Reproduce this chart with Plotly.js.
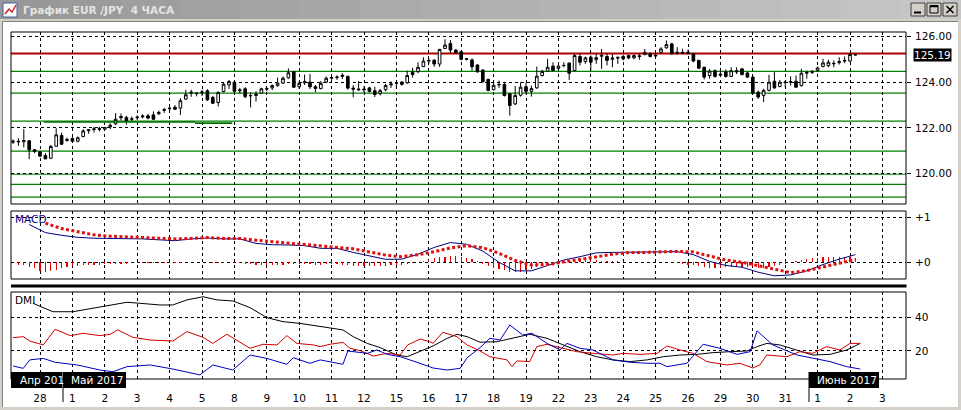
<!DOCTYPE html>
<html><head><meta charset="utf-8">
<script src="https://cdn.plot.ly/plotly-3.0.1.min.js"></script>
<style>html,body{margin:0;padding:0;background:#d4d0c8;overflow:hidden}#chart{width:961px;height:410px}</style>
</head><body><div id="chart"></div>
<script>
// ---------------- DATA ----------------
const dayTicks = [5,11,17,23,29,35,41,47,53,59,65,71,77,83,89,95,101,107,113,119,125,131,137,143,149,155,161];
const dayLabels = ['28','1','2','3','4','5','8','9','10','11','12','15','16','17','18','19','22','23','24','25','26','29','30','31','1','2','3'];

const open = [121.38,121.42,121.40,121.44,121.05,120.96,120.80,120.68,121.20,121.67,
121.50,121.54,121.42,121.62,121.88,121.93,121.97,121.95,122.05,122.18,
122.50,122.46,122.38,122.45,122.48,122.53,122.57,122.62,122.77,122.84,
122.90,122.87,123.26,123.52,123.50,123.55,123.62,123.33,123.11,123.59,
123.88,124.00,123.62,123.71,123.40,123.42,123.52,123.72,123.75,123.85,
123.96,124.19,124.46,123.80,123.97,124.00,123.80,123.72,124.00,124.17,
124.20,124.25,124.25,123.74,123.70,123.70,123.75,123.62,123.50,123.67,
123.88,123.95,124.00,123.97,124.43,124.46,124.68,124.92,124.96,124.79,
125.47,125.69,125.40,125.33,125.00,124.97,124.75,124.53,124.12,123.67,
123.88,123.90,123.49,123.05,123.43,123.80,123.60,123.75,124.29,124.48,
124.70,124.60,124.72,124.83,124.51,125.12,124.90,125.09,124.98,125.13,
125.12,125.00,125.05,125.12,125.16,125.06,125.15,125.20,125.23,125.18,
125.30,125.50,125.67,125.26,125.30,125.30,125.24,124.95,124.65,124.29,
124.50,124.30,124.45,124.25,124.50,124.58,124.40,124.22,123.56,123.42,
123.64,124.04,123.81,123.98,124.00,124.04,123.85,124.39,124.42,124.50,
124.68,124.72,124.80,124.85,124.92,124.92,125.20];
const high = [121.50,121.55,121.95,121.46,121.08,121.00,120.90,121.26,121.99,121.80,
121.58,121.60,121.63,121.95,121.95,122.05,122.05,122.05,122.20,122.65,
122.63,122.53,122.50,122.55,122.60,122.62,122.72,122.76,122.88,122.95,
123.00,123.30,123.67,123.67,123.57,123.67,123.70,123.40,123.60,123.99,
124.10,124.05,123.75,123.78,123.56,123.60,123.76,123.78,123.90,124.20,
124.25,124.60,124.47,124.05,124.33,124.36,123.88,124.05,124.25,124.25,
124.30,124.39,124.29,123.87,124.05,123.82,123.80,123.80,123.70,123.93,
124.03,124.05,124.05,124.50,124.62,124.87,125.09,125.05,125.00,125.45,
125.87,125.84,125.45,125.35,125.05,125.04,124.78,124.56,124.15,124.07,
124.07,123.96,123.52,123.83,124.00,123.97,123.85,124.68,124.54,125.02,
124.87,124.80,124.87,124.87,125.24,125.24,125.12,125.16,125.24,125.45,
125.27,125.24,125.12,125.20,125.20,125.20,125.24,125.45,125.30,125.25,
125.53,125.82,125.72,125.53,125.46,125.42,125.27,124.98,124.68,124.58,
124.55,124.55,124.55,124.65,124.65,124.62,124.45,124.25,123.64,123.71,
124.32,124.44,124.10,124.07,124.25,124.29,124.58,124.50,124.53,124.68,
125.02,124.98,124.95,125.09,125.12,125.27,125.22];
const low = [121.30,121.22,121.15,120.64,120.90,120.73,120.64,120.64,121.18,121.26,
121.40,121.40,121.37,121.60,121.75,121.80,121.85,121.90,121.95,122.13,
122.33,122.14,122.30,122.35,122.42,122.38,122.36,122.57,122.66,122.76,
122.79,122.57,123.23,123.36,123.38,123.40,123.18,123.04,122.94,123.55,
123.70,123.55,123.50,123.30,122.90,123.15,123.50,123.60,123.65,123.80,
123.93,124.15,123.75,123.70,123.88,123.70,123.56,123.68,123.96,124.10,
124.10,124.13,123.67,123.34,123.62,123.55,123.55,123.35,123.42,123.60,
123.75,123.70,123.85,123.93,124.20,124.39,124.66,124.80,124.67,124.67,
125.45,125.26,125.25,124.95,124.95,124.50,124.42,123.97,123.60,123.64,
123.75,123.37,122.54,123.00,123.37,123.49,123.37,123.71,124.25,124.45,
124.48,124.50,124.65,124.10,124.48,124.73,124.80,124.50,124.80,124.58,
124.73,124.65,124.80,124.95,125.00,125.00,124.98,125.18,125.08,125.10,
125.27,125.46,125.21,125.20,125.22,125.20,124.87,124.58,124.12,124.15,
124.20,124.22,124.20,124.22,124.35,124.30,124.18,123.48,123.27,123.13,
123.60,123.71,123.78,123.78,123.85,123.75,123.81,124.15,124.36,124.48,
124.65,124.65,124.65,124.77,124.83,124.87,125.17];
const close = [121.42,121.40,121.45,121.05,120.97,120.77,120.65,121.19,121.70,121.29,
121.46,121.42,121.57,121.87,121.92,121.96,121.94,122.02,122.12,122.38,
122.45,122.31,122.40,122.47,122.52,122.43,122.38,122.67,122.80,122.86,
122.82,123.19,123.45,123.56,123.52,123.57,123.23,123.08,123.55,123.91,
124.03,123.60,123.66,123.37,123.42,123.48,123.71,123.70,123.85,123.96,
124.17,124.41,123.78,123.95,124.02,123.80,123.72,123.95,124.17,124.20,
124.22,124.30,123.74,123.70,123.67,123.67,123.60,123.46,123.63,123.85,
123.92,123.97,123.90,124.29,124.33,124.65,124.92,124.95,124.79,125.43,
125.62,125.40,125.29,125.00,125.02,124.67,124.45,124.02,123.64,123.86,
123.90,123.42,122.98,123.42,123.78,123.60,123.72,124.26,124.47,124.65,
124.51,124.70,124.73,124.39,125.16,124.87,125.06,124.87,125.07,125.17,
124.95,125.05,125.08,125.02,125.06,125.16,125.12,125.30,125.12,125.15,
125.45,125.64,125.24,125.30,125.27,125.27,124.92,124.61,124.22,124.48,
124.25,124.35,124.25,124.50,124.45,124.33,124.22,123.52,123.35,123.64,
124.00,123.75,124.00,124.00,124.02,123.78,124.39,124.42,124.47,124.62,
124.84,124.87,124.82,124.90,124.95,125.21,125.19];

const lastPrice = 125.19;
const redLevel = 125.25;
const greenLevels = [124.47, 123.52, 122.30, 120.99, 119.98, 119.54, 118.98];
const trendX = [5.7, 33.7, null, 33.7, 40.6];
const trendY = [122.26, 122.26, null, 122.21, 122.21];

const macdT = [3,6,9,12,15,18,21,24,27,30,33,36,39,42,45,48,51,54,57,60,63,66,69,72,75,78,81,84,87,90,93,96,99,102,105,108,111,114,117,120,123,126,129,132,135,138,141,144,147,150,153,156];
const macdMain = [0.84,0.66,0.60,0.555,0.535,0.53,0.53,0.52,0.50,0.48,0.52,0.54,0.52,0.52,0.42,0.39,0.385,0.37,0.31,0.31,0.22,0.14,0.066,0.07,0.18,0.33,0.44,0.40,0.25,0.0,-0.19,-0.19,-0.07,0.05,0.125,0.21,0.22,0.22,0.225,0.235,0.236,0.17,0.02,-0.07,-0.11,-0.22,-0.30,-0.28,-0.19,-0.05,0.07,0.17];
const sigT = [6,9,12,15,18,21,24,27,30,33,36,39,42,45,48,51,54,57,60,63,66,69,72,75,78,81,84,87,90,93,96,99,102,105,108,111,114,117,120,123,126,129,132,135,138,141,144,147,150,153,156];
const macdSignal = [0.87,0.75,0.68,0.61,0.58,0.565,0.56,0.55,0.52,0.53,0.55,0.53,0.53,0.49,0.46,0.43,0.40,0.365,0.335,0.30,0.23,0.16,0.125,0.17,0.236,0.32,0.37,0.325,0.2,0.04,-0.06,-0.05,0.01,0.06,0.12,0.18,0.215,0.22,0.23,0.243,0.23,0.14,0.05,0.0,-0.08,-0.15,-0.23,-0.185,-0.1,-0.02,0.06];
const histStart = 1;
const macdHist = [-0.05,-0.07,-0.10,-0.13,-0.20,-0.22,-0.19,-0.16,-0.13,-0.11,
-0.09,-0.08,-0.07,-0.06,-0.05,-0.05,-0.04,-0.04,-0.03,-0.03,
-0.03,-0.02,-0.02,-0.02,-0.02,-0.01,-0.01,-0.01,-0.01,-0.02,
-0.01,0.00,0.00,0.01,0.01,0.00,-0.01,-0.01,-0.01,0.00,
-0.01,-0.02,-0.03,-0.04,-0.05,-0.06,-0.06,-0.06,-0.05,-0.05,
-0.04,-0.04,-0.03,-0.03,-0.04,-0.05,-0.05,-0.04,-0.04,-0.03,
-0.05,-0.07,-0.08,-0.09,-0.09,-0.09,-0.09,-0.09,-0.08,-0.07,
-0.06,-0.05,-0.03,-0.01,0.01,0.03,0.06,0.09,0.11,0.12,
0.13,0.13,0.12,0.10,0.07,0.03,-0.03,-0.08,-0.12,-0.15,
-0.18,-0.21,-0.22,-0.21,-0.18,-0.14,-0.10,-0.06,-0.03,0.00,
0.02,0.03,0.04,0.05,0.05,0.05,0.05,0.05,0.04,0.04,
0.03,0.02,0.02,0.01,0.01,0.01,0.00,0.00,0.00,0.00,
0.00,0.00,-0.01,-0.03,-0.05,-0.07,-0.09,-0.11,-0.12,-0.12,
-0.12,-0.11,-0.10,-0.10,-0.10,-0.10,-0.11,-0.12,-0.12,-0.11,
-0.09,-0.06,-0.03,0.00,0.03,0.05,0.07,0.09,0.10,0.11,
0.12,0.12,0.11,0.11,0.11,0.10];

const adxT = [3.7,5.6,7.4,11.1,14.8,17.4,21.1,23.5,27.2,29.6,32.2,35.2,37.8,40.7,43.9,47.0,50.0,53.1,56.3,59.3,61.1,63.0,65.6,68.0,71.1,73.0,75.4,77.8,80.4,82.2,84.1,86.5,89.6,92.6,95.7,98.9,101.9,105.0,108.1,111.1,114.3,117.4,120.4,123.5,126.7,129.6,132.8,135.9,137.8,139.6,142.0,145.2,148.1,151.3,154.4,156.9];
const adxV = [48.3,45.7,43.3,43.3,45.3,46.7,48.9,48.3,47.3,47.3,50.3,52.2,50.3,49.7,45.7,39.8,37.4,36.4,34.8,33.5,32.5,28.5,24.5,22.0,17.6,16.6,19.6,23.0,27.5,29.9,28.5,25.2,25.5,27.5,29.9,27.5,23.6,19.6,16.6,14.7,13.7,14.7,16.6,17.6,18.0,19.0,19.6,20.0,22.6,24.5,23.6,20.6,17.6,18.0,20.6,24.5];
const pdiT = [0,1.9,3.1,5.6,7.8,10.6,13.0,16.1,18.0,19.4,22.2,25.4,29.6,32.2,35.2,37.0,39.6,42.0,43.9,46.3,48.9,50.7,52.6,55.6,56.9,58.7,61.1,62.4,64.3,66.7,69.3,71.7,73.1,75.4,77.2,77.8,79.6,82.2,84.1,86.5,88.3,91.5,92.4,93.3,95.7,97.0,98.9,101.3,104.4,107.4,111.1,113.0,116.1,119.3,121.1,123.5,125.9,128.5,132.2,134.6,137.0,138.3,139.6,143.3,145.7,148.1,150.7,153.1,155.0,156.9];
const pdiV = [27.9,28.5,25.9,23.6,32.9,29.1,30.5,29.1,29.9,32.5,28.1,26.5,25.9,31.5,28.1,24.5,29.9,25.5,21.6,24.0,23.6,29.1,24.5,23.6,22.6,24.0,25.1,21.6,20.2,17.0,18.6,17.6,23.6,27.1,25.5,24.5,31.1,28.5,23.6,20.0,16.6,14.7,10.7,14.1,13.7,22.6,24.0,22.0,19.6,18.6,17.6,18.6,18.0,18.6,23.0,20.6,18.6,13.7,11.7,12.7,9.9,11.7,17.6,16.6,19.6,18.6,22.6,20.6,24.5,24.5];
const mdiT = [0,1.9,3.1,5.6,7.8,11.9,16.1,18.5,21.1,25.4,29.6,34.6,37.0,40.7,43.9,47.0,50.7,51.9,55.0,56.9,61.1,62.0,65.6,67.4,69.3,71.7,74.8,77.8,80.4,82.8,84.1,86.5,88.3,90.2,92.0,94.4,96.1,98.9,101.3,102.6,105.0,107.4,111.1,114.3,117.4,119.8,121.1,124.8,127.8,130.9,134.1,136.5,137.8,140.7,145.2,148.1,151.3,154.4,156.9];
const mdiV = [11.1,9.7,14.7,15.6,13.3,11.7,8.7,7.7,10.7,11.7,9.3,5.8,11.7,8.7,17.6,15.6,12.1,16.0,12.7,14.7,12.1,20.0,18.6,20.6,18.0,16.6,13.3,9.9,8.7,9.7,16.0,22.0,27.5,26.5,35.4,29.5,30.5,24.5,20.6,24.5,21.6,20.6,14.7,13.3,12.7,12.7,10.7,12.7,24.0,21.6,18.0,19.6,31.9,23.6,17.6,15.6,13.7,10.7,9.3];

// ---------------- LAYOUT HELPERS ----------------
const W = 961, H = 410;
const px = x => x / W;
const py = y => 1 - y / H;
const FONT = 'DejaVu Sans, Verdana, sans-serif';
const idx = open.map((_, i) => i);
const histX = macdHist.map((_, i) => i + histStart);

const traces = [
  {type:'candlestick', x: idx, open, high, low, close, xaxis:'x', yaxis:'y',
   increasing:{line:{color:'#000', width:1}, fillcolor:'#ffffff'},
   decreasing:{line:{color:'#000', width:1}, fillcolor:'#000000'},
   whiskerwidth:0, hoverinfo:'skip'},
  {type:'scatter', mode:'lines', x: trendX, y: trendY, xaxis:'x', yaxis:'y',
   line:{color:'#007000', width:1.6}, hoverinfo:'skip', connectgaps:false},
  {type:'bar', x: histX, y: macdHist, xaxis:'x', yaxis:'y2', width:0.2,
   marker:{color:'#e00000', line:{width:0}}, hoverinfo:'skip'},
  {type:'scatter', mode:'lines', x: macdT, y: macdMain, xaxis:'x', yaxis:'y2',
   line:{color:'#000080', width:1}, hoverinfo:'skip'},
  {type:'scatter', mode:'lines', x: sigT, y: macdSignal, xaxis:'x', yaxis:'y2',
   line:{color:'#e01010', width:3, dash:'3px,2.4px'}, hoverinfo:'skip'},
  {type:'scatter', mode:'lines', x: adxT, y: adxV, xaxis:'x', yaxis:'y3',
   line:{color:'#000000', width:1}, hoverinfo:'skip'},
  {type:'scatter', mode:'lines', x: pdiT, y: pdiV, xaxis:'x', yaxis:'y3',
   line:{color:'#d00000', width:1}, hoverinfo:'skip'},
  {type:'scatter', mode:'lines', x: mdiT, y: mdiV, xaxis:'x', yaxis:'y3',
   line:{color:'#0000c0', width:1}, hoverinfo:'skip'}
];

const shapes = [];
// content white area
shapes.push({type:'rect', xref:'paper', yref:'paper', x0:px(3), x1:px(958), y0:py(407), y1:py(21), fillcolor:'#ffffff', line:{width:0}, layer:'below'});
shapes.push({type:'line', xref:'paper', yref:'paper', x0:px(2.5), x1:px(958), y0:py(21.5), y1:py(21.5), line:{color:'#808080', width:1}, layer:'below'});
shapes.push({type:'line', xref:'paper', yref:'paper', x0:px(2.5), x1:px(2.5), y0:py(21.5), y1:py(407), line:{color:'#808080', width:1}, layer:'below'});
// title bar gradient
const strips = 16;
for (let i = 0; i < strips; i++) {
  const g = Math.round(0x98 + (0xc6 - 0x98) * i / (strips - 1));
  const c = 'rgb(' + g + ',' + g + ',' + g + ')';
  shapes.push({type:'rect', xref:'paper', yref:'paper', x0:px(i * W / strips), x1:px((i + 1) * W / strips + 1), y0:py(19), y1:py(0), fillcolor:c, line:{width:0}, layer:'below'});
}
// title icon
shapes.push({type:'rect', xref:'paper', yref:'paper', x0:px(3), x1:px(17), y0:py(17), y1:py(3), fillcolor:'#ffffff', line:{color:'#4060a0', width:1}, layer:'below'});
shapes.push({type:'path', xref:'paper', yref:'paper', path:'M '+px(5)+','+py(14)+' L '+px(9)+','+py(9)+' L '+px(12)+','+py(12)+' L '+px(16)+','+py(5), line:{color:'#d02020', width:1.5}, layer:'below'});
// window buttons
[[911,925],[927,941],[943,957]].forEach(b => {
  shapes.push({type:'rect', xref:'paper', yref:'paper', x0:px(b[0]), x1:px(b[1]), y0:py(16), y1:py(3), fillcolor:'#d4d0c8', line:{color:'#404040', width:1}, layer:'below'});
});
shapes.push({type:'line', xref:'paper', yref:'paper', x0:px(914), x1:px(921), y0:py(12.5), y1:py(12.5), line:{color:'#000', width:2}, layer:'below'});
shapes.push({type:'rect', xref:'paper', yref:'paper', x0:px(930), x1:px(938), y0:py(13), y1:py(5.5), line:{color:'#000', width:1}, layer:'below'});
shapes.push({type:'line', xref:'paper', yref:'paper', x0:px(930), x1:px(938), y0:py(6.5), y1:py(6.5), line:{color:'#000', width:1.5}, layer:'below'});
shapes.push({type:'line', xref:'paper', yref:'paper', x0:px(946.5), x1:px(953.5), y0:py(6), y1:py(13), line:{color:'#000', width:1.5}, layer:'below'});
shapes.push({type:'line', xref:'paper', yref:'paper', x0:px(946.5), x1:px(953.5), y0:py(13), y1:py(6), line:{color:'#000', width:1.5}, layer:'below'});

// levels (price panel)
greenLevels.forEach(v => shapes.push({type:'line', xref:'x domain', yref:'y', x0:0, x1:1, y0:v, y1:v, line:{color:'#008000', width:1.2}, layer:'below'}));
shapes.push({type:'line', xref:'x domain', yref:'y', x0:0, x1:1, y0:redLevel, y1:redLevel, line:{color:'#b00000', width:2}, layer:'below'});

// panel frames
['y','y2','y3'].forEach(ya => shapes.push({type:'rect', xref:'x domain', yref: ya + ' domain', x0:0, x1:1, y0:0, y1:1, line:{color:'#000', width:1}, fillcolor:'rgba(0,0,0,0)', layer:'above'}));
// separator MACD / DMI
shapes.push({type:'rect', xref:'paper', yref:'paper', x0:px(11), x1:px(906.5), y0:py(287.5), y1:py(284.5), fillcolor:'#000', line:{width:0}, layer:'above'});
// month boxes
shapes.push({type:'rect', xref:'paper', yref:'paper', x0:px(11), x1:px(62), y0:py(388), y1:py(372), fillcolor:'#000', line:{width:0}, layer:'above'});
shapes.push({type:'rect', xref:'paper', yref:'paper', x0:px(63), x1:px(126), y0:py(388), y1:py(372), fillcolor:'#000', line:{width:0}, layer:'above'});
shapes.push({type:'line', xref:'paper', yref:'paper', x0:px(63), x1:px(63), y0:py(402), y1:py(372), line:{color:'#000', width:1}, layer:'above'});
shapes.push({type:'rect', xref:'paper', yref:'paper', x0:px(809), x1:px(879), y0:py(388), y1:py(372), fillcolor:'#000', line:{width:0}, layer:'above'});
shapes.push({type:'line', xref:'paper', yref:'paper', x0:px(809), x1:px(809), y0:py(402), y1:py(372), line:{color:'#000', width:1}, layer:'above'});

const annotations = [
  {xref:'paper', yref:'paper', x:px(21), y:py(9.5), xanchor:'left', yanchor:'middle', showarrow:false,
   text:'<b>График EUR /JPY  4 ЧАСА</b>', font:{family:FONT, size:10.5, color:'#e4e4e4'}},
  {xref:'paper', yref:'y', x:px(913), y:lastPrice, xanchor:'left', yanchor:'middle', showarrow:false,
   text: lastPrice.toFixed(2), bgcolor:'#000', borderpad:0, font:{family:FONT, size:10.5, color:'#fff'}},
  {xref:'paper', yref:'paper', x:px(13), y:py(218.5), xanchor:'left', yanchor:'middle', showarrow:false,
   text:'MACD', font:{family:FONT, size:10.5, color:'#000080'}},
  {xref:'paper', yref:'paper', x:px(13), y:py(300), xanchor:'left', yanchor:'middle', showarrow:false,
   text:'DMI', font:{family:FONT, size:10.5, color:'#000'}},
  {xref:'paper', yref:'paper', x:px(18), y:py(380), xanchor:'left', yanchor:'middle', showarrow:false,
   text:'Апр 201', font:{family:FONT, size:10.5, color:'#fff'}},
  {xref:'paper', yref:'paper', x:px(69), y:py(380), xanchor:'left', yanchor:'middle', showarrow:false,
   text:'Май 2017', font:{family:FONT, size:10.5, color:'#fff'}},
  {xref:'paper', yref:'paper', x:px(815), y:py(380), xanchor:'left', yanchor:'middle', showarrow:false,
   text:'Июнь 2017', font:{family:FONT, size:10.5, color:'#fff'}}
];

const tickFont = {family:FONT, size:10.5, color:'#000'};
const yCommon = {side:'right', anchor:'x', showgrid:true, gridcolor:'#000', gridwidth:1, griddash:'3px,3px',
  zeroline:false, showline:false, ticks:'outside', ticklen:4, tickcolor:'#000', tickfont:tickFont, fixedrange:true, ticklabelstandoff:2};

const layout = {
  width:W, height:H, margin:{l:0, r:0, t:0, b:0}, paper_bgcolor:'#d4d0c8', plot_bgcolor:'rgba(0,0,0,0)',
  showlegend:false, dragmode:false, bargap:0,
  xaxis:{domain:[px(11), px(906)], range:[-0.37, 165.37], anchor:'y3', tickmode:'array', tickvals:dayTicks, ticktext:dayLabels,
    showgrid:true, gridcolor:'#000', gridwidth:1, griddash:'3px,3px', zeroline:false, showline:false, ticks:'',
    ticklabelstandoff:11, tickfont:tickFont, rangeslider:{visible:false}, fixedrange:true},
  yaxis:Object.assign({}, yCommon, {domain:[py(204), py(32)], range:[118.68, 126.19], tickmode:'array',
    tickvals:[120,122,124,126], ticktext:['120.00','122.00','124.00','126.00']}),
  yaxis2:Object.assign({}, yCommon, {domain:[py(279), py(211)], range:[-0.371, 1.14], tickmode:'array',
    tickvals:[0,1], ticktext:['+0','+1']}),
  yaxis3:Object.assign({}, yCommon, {domain:[py(379), py(292)], range:[3.38, 55.0], tickmode:'array',
    tickvals:[20,40], ticktext:['20','40']}),
  shapes, annotations
};

Plotly.newPlot('chart', traces, layout, {displayModeBar:false, staticPlot:true});
</script></body></html>
